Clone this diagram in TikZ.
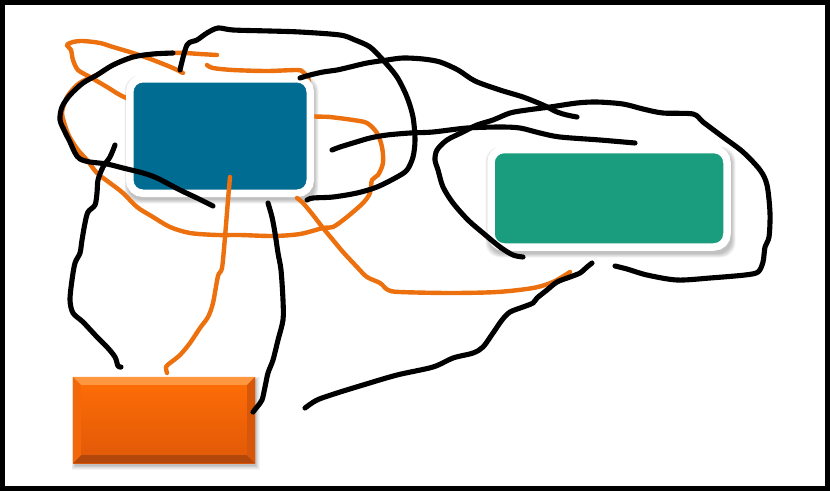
\documentclass[tikz,border=0pt]{standalone}
\usetikzlibrary{calc}

\definecolor{tealblue}{RGB}{0,108,145}
\definecolor{seagreen}{RGB}{26,157,126}
\definecolor{penorange}{RGB}{236,112,14}
\definecolor{boxorange}{RGB}{255,110,6}
\definecolor{boxorangedark}{RGB}{224,88,8}
\definecolor{bevellight}{RGB}{255,150,64}
\definecolor{beveldark}{RGB}{178,72,12}
\definecolor{bevelside}{RGB}{242,104,10}
\definecolor{bevelsidedark}{RGB}{214,86,10}

\tikzset{
  panel/.style={draw=white, line width=7.5pt, rounded corners=13pt, inner sep=0pt},
  inkblack/.style={draw=black, line width=5.1pt, line cap=round, line join=round},
  inkorange/.style={draw=penorange, line width=4.4pt, line cap=round, line join=round},
  shadowlayer/.style={fill=black, opacity=0.045},
}

\begin{document}
\begin{tikzpicture}[x=1pt,y=-1pt]
\useasboundingbox (0,0) rectangle (830,491);
\fill[white] (0,0) rectangle (830,491);

% soft shadows under the three boxes
\foreach \k in {0,...,5}{
  \fill[shadowlayer, rounded corners=15pt]
    ({128-\k*0.7},{79-\k*0.7}) rectangle ({315+\k*0.7},{200+\k*0.7});
  \fill[shadowlayer, rounded corners=15pt]
    ({489-\k*0.7},{150-\k*0.7}) rectangle ({732+\k*0.7},{254+\k*0.7});
  \fill[shadowlayer]
    ({75-\k*0.7},{380-\k*0.7}) rectangle ({256+\k*0.7},{466+\k*0.7});
}

% orange scribbles that pass behind the blue box
\draw[inkorange] plot[smooth, tension=0.5] coordinates {
  (183,73) (173,68) (153,60) (133,53) (113,47) (100,43) (83,41) (73,42)
  (67,45) (71,50) (73,60) (78,70) (90,77) (107,87) (120,95) (131,100)};
\draw[inkorange] plot[smooth, tension=0.5] coordinates {
  (217,55) (200,54) (185,53) (173,53) (153,54) (133,57) (113,65) (97,75)
  (87,79) (77,85) (67,97) (62,112) (64,122) (69,136) (78,150) (87,160)
  (97,173) (110,183) (123,193) (137,207) (153,217) (170,227) (190,233)
  (217,235) (240,235) (273,236) (300,234) (323,228) (333,227) (347,217)
  (363,203) (370,193) (372,180) (378,175) (383,163) (382,147) (377,133)
  (367,123) (353,120) (330,117) (308,115) (304,100) (309,86) (308,78)
  (303,72) (297,70) (267,71) (233,70) (213,68) (207,65)};

% boxes
\node[panel, fill=tealblue, minimum width=180.5pt, minimum height=114.5pt]
  (hub) at (220,136) {};
\node[panel, fill=seagreen, minimum width=236pt, minimum height=97.5pt]
  (store) at (609,198.25) {};
\node[inner sep=0pt, minimum width=182pt, minimum height=86pt,
      top color=boxorange, bottom color=boxorangedark]
  (source) at (164,420) {};

% bevel of the orange box
\fill[bevellight] (source.north west) -- (source.north east)
  -- ($(source.north east)+(-8,8)$) -- ($(source.north west)+(8,8)$) -- cycle;
\fill[beveldark] (source.south west) -- (source.south east)
  -- ($(source.south east)+(-8,-8)$) -- ($(source.south west)+(8,-8)$) -- cycle;
\fill[bevelside] (source.north west) -- ($(source.north west)+(8,8)$)
  -- ($(source.south west)+(8,-8)$) -- (source.south west) -- cycle;
\fill[bevelsidedark] (source.north east) -- ($(source.north east)+(-8,8)$)
  -- ($(source.south east)+(-8,-8)$) -- (source.south east) -- cycle;

% orange scribbles drawn over the boxes
\draw[inkorange] plot[smooth, tension=0.5] coordinates {
  (230,177) (228,200) (225,237) (222,268) (218,276) (213,303) (208,317)
  (200,328) (190,343) (180,355) (170,363) (166,367) (167,373)};
\draw[inkorange] plot[smooth, tension=0.5] coordinates {
  (297,198) (303,203) (313,215) (323,228) (333,240) (343,252) (357,267)
  (367,277) (380,283) (388,290) (400,292) (450,293) (497,292) (533,288)
  (553,282) (570,272)};

% black scribbles
\draw[inkblack] plot[smooth, tension=0.5] coordinates {
  (180,70) (187,45) (197,40) (207,33) (218,28) (233,30) (270,31) (300,32)
  (340,35) (355,40) (370,47) (383,60) (397,77) (407,97) (413,117) (415,140)
  (413,157) (407,170) (397,177) (377,187) (357,193) (333,197) (313,198)
  (307,200)};
\draw[inkblack] plot[smooth, tension=0.5] coordinates {
  (173,53) (153,54) (133,57) (113,65) (97,75) (83,83) (70,95) (62,107)
  (60,120) (65,132) (70,142) (75,153) (80,159) (90,162) (107,164) (123,168)
  (143,173) (157,178) (180,190) (197,198) (207,203) (213,206)};
\draw[inkblack] plot[smooth, tension=0.5] coordinates {
  (115,145) (110,157) (103,167) (98,180) (97,193) (95,205) (88,212)
  (85,223) (82,240) (80,253) (75,263) (72,280) (70,300) (73,313) (83,322)
  (97,337) (107,347) (115,357) (118,366) (121,367)};
\draw[inkblack] plot[smooth, tension=0.5] coordinates {
  (268,203) (272,217) (275,233) (278,253) (281,270) (283,300) (283,320)
  (278,340) (273,360) (268,373) (265,387) (262,400) (257,407) (253,412)};
\draw[inkblack] plot[smooth, tension=0.5] coordinates {
  (332,150) (340,147) (353,143) (370,138) (387,135) (410,133) (433,132)
  (467,128) (500,127) (520,128) (540,133) (560,137) (600,140) (635,143)};
\draw[inkblack] plot[smooth, tension=0.5] coordinates {
  (300,78) (310,75) (323,72) (337,70) (350,67) (367,63) (387,60) (403,58)
  (423,59) (440,62) (458,70) (475,81) (500,90) (523,97) (543,105) (557,112)
  (567,115) (577,117)};
\draw[inkblack] plot[smooth, tension=0.5] coordinates {
  (523,257) (513,255) (500,247) (483,233) (468,220) (453,203) (443,187)
  (438,170) (435,160) (437,150) (447,140) (463,132) (477,125) (493,120)
  (510,113) (527,110) (550,107) (577,103) (597,102) (623,104) (643,109)
  (663,113) (693,114) (703,122) (723,137) (743,152) (760,170) (767,185)
  (770,213) (769,237) (765,247) (763,262) (758,272) (745,275) (710,278)
  (677,280) (647,275) (627,269) (615,266)};
\draw[inkblack] plot[smooth, tension=0.5] coordinates {
  (305,408) (317,400) (337,393) (363,385) (397,375) (433,367) (453,358)
  (473,353) (483,347) (493,333) (502,320) (510,312) (523,307) (533,303)
  (537,298) (547,290) (557,282) (570,277) (580,273) (587,267) (592,263)};

% outer frame
\draw[black, line width=5pt] (2.5,2.5) rectangle (827.5,488.5);
\end{tikzpicture}
\end{document}
